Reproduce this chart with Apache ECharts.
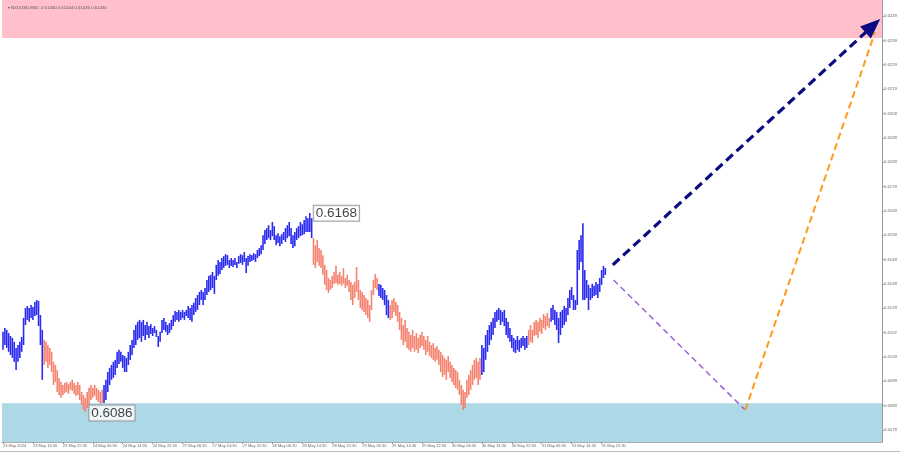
<!DOCTYPE html>
<html>
<head>
<meta charset="utf-8">
<script src="https://cdn.jsdelivr.net/npm/echarts@6/dist/echarts.min.js"></script>
<style>html,body{margin:0;padding:0;background:#fff}#c{width:900px;height:453px}</style>
</head>
<body>
<div id="c"></div>
<script>
// ---- data (NZDUSD, M30) ----
const timeTicks = [0,16,32,48,64,80,96,112,128,144,160,176,192,208,224,240,256,272,288,304,320];
const timeLabels = ['23 May 2024','23 May 14:30','23 May 22:30','24 May 06:30','24 May 14:30','24 May 22:30',
  '27 May 06:30','27 May 14:30','27 May 22:30','28 May 06:30','28 May 14:30','28 May 22:30',
  '29 May 06:30','29 May 14:30','29 May 22:30','30 May 06:30','30 May 14:30','30 May 22:30',
  '31 May 06:30','31 May 14:30','31 May 22:30'];
const priceTicks = [0.6079,0.6089,0.6099,0.6109,0.6119,0.6129,0.6139,0.6149,0.6159,0.6169,0.6179,0.6189,0.6199,0.6209,0.6219,0.6229,0.6239,0.6249];

const highs = [
0.61193,0.61209,0.61201,0.61188,0.61176,0.61168,0.61152,0.61127,0.61139,0.61152,0.61172,0.61250,0.61291,0.61299,0.61291,0.61303,0.61295,0.61316,0.61324,0.61320,0.61262,0.61201,
0.61160,0.61152,0.61139,0.61127,0.61111,0.61070,0.61057,0.61036,0.61004,0.60987,0.60975,0.60983,0.60987,0.60979,0.60987,0.60996,0.60983,0.60975,0.60987,0.60975,0.60946,0.60934,0.60922,0.60946,0.60963,0.60975,0.60963,0.60975,0.60963,0.60955,0.60946,0.60955,
0.60975,0.60996,0.61028,0.61045,0.61057,0.61070,0.61078,0.61111,0.61119,0.61111,0.61098,0.61094,0.61086,0.61111,0.61139,0.61160,0.61201,0.61221,0.61234,0.61242,0.61234,0.61242,0.61221,0.61234,0.61217,0.61225,0.61209,0.61217,0.61201,0.61176,0.61193,0.61242,0.61250,0.61234,0.61221,0.61229,0.61242,0.61262,0.61279,0.61275,0.61283,0.61275,0.61283,0.61275,0.61283,0.61299,0.61291,0.61303,0.61312,0.61332,0.61344,0.61357,0.61365,0.61357,0.61373,0.61406,0.61423,0.61427,0.61439,0.61423,0.61468,0.61488,0.61480,0.61496,0.61504,0.61512,0.61508,0.61488,0.61496,0.61488,0.61496,0.61480,0.61504,0.61512,0.61508,0.61521,0.61496,0.61504,0.61512,0.61508,0.61516,0.61512,0.61529,0.61537,0.61549,0.61590,0.61611,0.61619,0.61631,0.61611,0.61644,0.61627,0.61590,0.61598,0.61586,0.61594,0.61603,0.61619,0.61631,0.61644,0.61619,0.61590,0.61603,0.61619,0.61627,0.61644,0.61635,0.61652,0.61668,0.61660,0.61681,0.61660,
0.61578,0.61549,0.61570,0.61537,0.61529,0.61508,0.61468,0.61447,0.61414,0.61406,0.61423,0.61439,0.61464,0.61427,0.61439,0.61423,0.61455,0.61414,0.61427,0.61406,0.61398,0.61386,0.61398,0.61459,0.61406,0.61365,0.61357,0.61344,0.61332,0.61324,0.61303,0.61365,0.61406,0.61431,0.61414,
0.61390,0.61386,0.61373,0.61365,0.61344,0.61324,
0.61303,0.61324,0.61332,0.61316,0.61303,0.61275,0.61250,0.61221,0.61242,0.61209,0.61193,0.61180,0.61201,0.61176,0.61188,0.61168,0.61180,0.61193,0.61176,0.61160,0.61176,0.61152,0.61139,0.61147,0.61127,0.61135,0.61119,0.61111,0.61098,0.61086,0.61078,0.61094,0.61070,0.61057,0.61045,0.61036,0.61028,0.60996,0.60975,0.60955,0.60946,0.60996,0.61016,0.61036,0.61057,0.61078,0.61086,0.61070,0.61086,
0.61139,0.61127,0.61180,0.61201,0.61221,0.61234,0.61250,0.61275,0.61283,0.61291,0.61283,0.61275,0.61283,0.61250,0.61234,0.61209,0.61180,0.61168,0.61160,0.61176,0.61160,0.61168,0.61176,0.61168,0.61176,
0.61201,0.61221,0.61201,0.61234,0.61242,0.61234,0.61250,0.61242,0.61266,0.61258,0.61271,0.61250,
0.61291,0.61303,0.61283,0.61275,0.61250,0.61275,0.61283,0.61299,0.61291,0.61332,0.61365,0.61377,0.61344,0.61324,0.61529,0.61570,0.61590,0.61639,0.61447,0.61406,0.61386,0.61373,0.61390,0.61382,0.61398,0.61390,0.61414,0.61447,0.61464,0.61455
];
const lows = [
0.61119,0.61139,0.61127,0.61111,0.61098,0.61086,0.61070,0.61036,0.61070,0.61086,0.61111,0.61139,0.61221,0.61242,0.61234,0.61250,0.61242,0.61258,0.61262,0.61217,0.61139,0.60996,
0.61057,0.61070,0.61045,0.61057,0.61028,0.60975,0.60987,0.60946,0.60934,0.60922,0.60934,0.60942,0.60946,0.60938,0.60955,0.60951,0.60938,0.60930,0.60934,0.60913,0.60893,0.60872,0.60864,0.60880,0.60893,0.60913,0.60922,0.60930,0.60913,0.60905,0.60897,0.60901,
0.60901,0.60913,0.60946,0.60975,0.60996,0.61004,0.61016,0.61045,0.61061,0.61070,0.61045,0.61028,0.61028,0.61057,0.61078,0.61098,0.61127,0.61139,0.61160,0.61168,0.61152,0.61176,0.61160,0.61180,0.61168,0.61184,0.61176,0.61188,0.61172,0.61131,0.61152,0.61188,0.61201,0.61193,0.61180,0.61188,0.61201,0.61217,0.61234,0.61242,0.61234,0.61242,0.61250,0.61242,0.61258,0.61250,0.61242,0.61234,0.61262,0.61275,0.61283,0.61303,0.61324,0.61303,0.61324,0.61344,0.61357,0.61365,0.61373,0.61349,0.61406,0.61423,0.61431,0.61447,0.61455,0.61464,0.61468,0.61455,0.61464,0.61459,0.61468,0.61455,0.61472,0.61476,0.61468,0.61480,0.61435,0.61464,0.61480,0.61484,0.61488,0.61480,0.61496,0.61504,0.61512,0.61529,0.61554,0.61570,0.61578,0.61570,0.61586,0.61570,0.61549,0.61558,0.61545,0.61554,0.61570,0.61562,0.61578,0.61586,0.61554,0.61537,0.61545,0.61570,0.61578,0.61586,0.61590,0.61594,0.61603,0.61603,0.61603,0.61578,
0.61468,0.61455,0.61480,0.61464,0.61455,0.61427,0.61386,0.61365,0.61353,0.61365,0.61373,0.61390,0.61394,0.61386,0.61390,0.61382,0.61390,0.61373,0.61382,0.61357,0.61324,0.61303,0.61332,0.61357,0.61324,0.61291,0.61283,0.61275,0.61262,0.61250,0.61234,0.61283,0.61344,0.61373,0.61365,
0.61340,0.61332,0.61324,0.61303,0.61262,0.61250,
0.61242,0.61250,0.61275,0.61258,0.61234,0.61201,0.61160,0.61139,0.61152,0.61127,0.61119,0.61111,0.61127,0.61111,0.61119,0.61106,0.61127,0.61135,0.61119,0.61098,0.61111,0.61094,0.61086,0.61078,0.61070,0.61078,0.61057,0.61028,0.61008,0.61016,0.60996,0.61028,0.61004,0.60987,0.60975,0.60963,0.60955,0.60934,0.60893,0.60872,0.60880,0.60922,0.60934,0.60955,0.60975,0.60996,0.61004,0.60975,0.60996,
0.61016,0.61028,0.61078,0.61111,0.61139,0.61160,0.61180,0.61209,0.61234,0.61242,0.61221,0.61234,0.61217,0.61180,0.61168,0.61152,0.61127,0.61111,0.61106,0.61119,0.61111,0.61127,0.61135,0.61119,0.61127,
0.61139,0.61152,0.61147,0.61176,0.61180,0.61168,0.61193,0.61184,0.61209,0.61201,0.61217,0.61209,
0.61234,0.61242,0.61221,0.61201,0.61147,0.61180,0.61209,0.61221,0.61234,0.61262,0.61291,0.61324,0.61283,0.61283,0.61303,0.61447,0.61480,0.61324,0.61324,0.61332,0.61283,0.61324,0.61332,0.61340,0.61344,0.61332,0.61357,0.61386,0.61414,0.61427
];
// wave segments: first bar index of each wave, and its colour
const waveStarts = [0, 22, 54, 166, 201, 207, 256, 281, 293];
const waveColors = ['#2a2af0','#f5836f','#2a2af0','#f5836f','#2a2af0','#f5836f','#2a2af0','#f5836f','#2a2af0'];

// extremes marked with labels: [bar index, price]
const extremeHigh = [164, 0.6168];
const extremeLow = [44, 0.6086];
// target zones
const sellZone = [0.6240, 0.62556];
const buyZone = [0.60741, 0.6090];
// projected paths: [bar index, price]
const pathMain = [[326, 0.61468], [465, 0.62450]];
const pathAltDown = [[326.4, 0.61406], [396.8, 0.60872]];
const pathAltUp = [[396.8, 0.60872], [466.2, 0.62424]];
// current price labels
const bidPrice = 0.61472;
const askPrice = 0.61430;

const xMin = -0.5, xMax = 469.9;
const yMin = 0.607407, yMax = 0.625557;

function colorFor(i) {
  let c = waveColors[0];
  for (let k = 0; k < waveStarts.length; k++) if (i >= waveStarts[k]) c = waveColors[k];
  return c;
}

const barData = highs.map((h, i) => [i, h, lows[i]]);

const chart = echarts.init(document.getElementById('c'), null, {renderer: 'canvas'});
chart.setOption({
  animation: false,
  backgroundColor: '#fff',
  title: {
    text: '\u25BE NZDUSD,M30  0.61430 0.61444 0.61430 0.61430',
    left: 3, top: 1,
    textStyle: {fontSize: 4.3, fontWeight: 'normal', color: '#555', fontFamily: 'Liberation Sans'}
  },
  graphic: [
    {type: 'line', shape: {x1: 0, y1: 451.5, x2: 900, y2: 451.5}, style: {stroke: '#bbb', lineWidth: 1}, silent: true}
  ],
  grid: {left: 0, right: 18, top: 0, bottom: 11},
  xAxis: {
    type: 'value', min: xMin, max: xMax,
    axisLine: {show: true, onZero: false, lineStyle: {color: '#aaa', width: 1}},
    axisTick: {show: true, length: 2, lineStyle: {color: '#999'}, customValues: timeTicks},
    axisLabel: {
      customValues: timeTicks, align: 'left', margin: 2, fontSize: 4, color: '#666',
      fontFamily: 'Liberation Sans',
      formatter: v => { const k = timeTicks.indexOf(Math.round(v)); return k >= 0 ? timeLabels[k] : ''; }
    },
    splitLine: {show: false}
  },
  yAxis: {
    type: 'value', position: 'right', min: yMin, max: yMax, scale: true,
    axisLine: {show: true, onZero: false, lineStyle: {color: '#999', width: 1}},
    axisTick: {show: true, length: 2, lineStyle: {color: '#999'}, customValues: priceTicks},
    axisLabel: {
      customValues: priceTicks, margin: 2, fontSize: 4.2, color: '#666', fontFamily: 'Liberation Sans',
      formatter: v => v.toFixed(4)
    },
    splitLine: {show: false}
  },
  series: [
    {
      type: 'line', data: [], silent: true,
      markArea: {
        silent: true,
        data: [
          [{xAxis: xMin, yAxis: sellZone[0], itemStyle: {color: '#ffc0cb'}}, {xAxis: xMax, yAxis: sellZone[1]}],
          [{xAxis: xMin, yAxis: buyZone[0], itemStyle: {color: '#add8e6'}}, {xAxis: xMax, yAxis: buyZone[1]}]
        ]
      }
    },
    {
      type: 'custom',
      data: barData,
      encode: {x: 0, y: [1, 2]},
      clip: true,
      renderItem: function (params, api) {
        const i = api.value(0);
        const top = api.coord([i, api.value(1)]);
        const bot = api.coord([i, api.value(2)]);
        return {
          type: 'rect',
          shape: {x: top[0] - 0.8, y: top[1], width: 1.6, height: Math.max(1, bot[1] - top[1])},
          style: {fill: colorFor(i)}
        };
      },
      z: 3
    },
    {
      type: 'line', data: [], silent: true, z: 4,
      markLine: {
        silent: true, animation: false,
        data: [
          [{coord: pathAltDown[0], symbol: 'none', lineStyle: {color: '#9b62d4', width: 1.5, type: [6, 4]}},
           {coord: pathAltDown[1], symbol: 'none'}],
          [{coord: pathAltUp[0], symbol: 'none', lineStyle: {color: '#ff9a1c', width: 2, type: [7, 4]}},
           {coord: pathAltUp[1], symbol: 'none'}],
          [{coord: pathMain[0], symbol: 'none', lineStyle: {color: '#0c0c82', width: 3.2, type: [9, 5]}},
           {coord: pathMain[1], symbol: 'triangle', symbolSize: [16, 20], itemStyle: {color: '#0c0c82'}}]
        ],
        label: {show: false}
      }
    },
    {
      type: 'scatter', symbolSize: 0, z: 5, silent: true,
      data: [extremeHigh, extremeLow],
      label: {
        show: true, position: 'right', distance: 4,
        formatter: p => p.value[1].toFixed(4),
        fontSize: 13.5, color: '#111', fontFamily: 'Liberation Sans',
        backgroundColor: '#fff', borderColor: '#8a8a8a', borderWidth: 1,
        padding: [1, 2, 0, 2], lineHeight: 14
      }
    },
    {
      type: 'line', data: [], silent: true, z: 6,
      markLine: {
        silent: true, symbol: 'none',
        lineStyle: {opacity: 0},
        data: [
          {yAxis: askPrice, label: {show: true, position: 'end', distance: 1, formatter: () => askPrice.toFixed(4),
            backgroundColor: '#9a9a9a', color: '#fff', fontSize: 4.2, padding: [1, 1, 1, 1], fontFamily: 'Liberation Sans'}},
          {yAxis: bidPrice, label: {show: true, position: 'end', distance: 1, formatter: () => bidPrice.toFixed(4),
            backgroundColor: '#111', color: '#fff', fontSize: 4.2, padding: [1, 1, 1, 1], fontFamily: 'Liberation Sans'}}
        ]
      }
    }
  ]
});
</script>
</body>
</html>
